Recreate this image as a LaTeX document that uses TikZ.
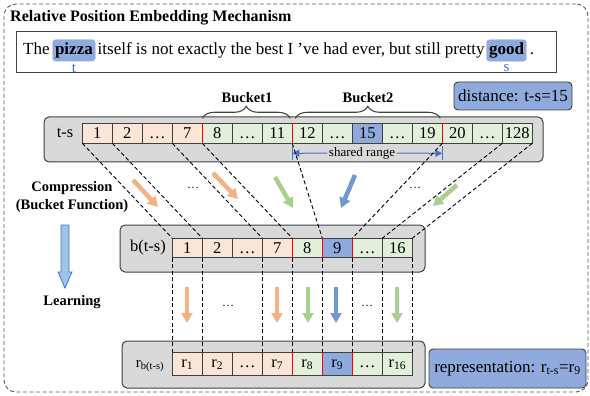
\documentclass[tikz,border=0pt]{standalone}
\usepackage{fontspec}
\setmainfont{Liberation Serif}
\usetikzlibrary{chains,positioning,decorations.pathreplacing,arrows.meta}
\definecolor{myorange}{RGB}{251,229,214}
\definecolor{mygreen}{RGB}{226,240,217}
\definecolor{myblue}{RGB}{143,170,220}
\definecolor{mygray}{RGB}{217,217,217}
\definecolor{myedge}{RGB}{64,64,64}
\definecolor{myframe}{RGB}{62,74,54}
\definecolor{arrorange}{RGB}{244,177,131}
\definecolor{arrgreen}{RGB}{169,209,142}
\definecolor{arrblue}{RGB}{112,153,208}
\definecolor{mytoken}{RGB}{68,114,196}
\definecolor{mybigarrow}{RGB}{157,195,230}

\begin{document}
\begin{tikzpicture}[x=1pt,y=-1pt,
	every node/.style={font=\fontsize{16.5}{19}\selectfont},
	cellnode/.style={draw=myedge,line width=0.8pt,minimum width=30pt,inner sep=0pt,outer sep=0pt,text height=11pt,text depth=0pt},
	panelnode/.style={draw=myedge,fill=mygray,line width=1pt,rounded corners=5pt,inner sep=0pt},
	infonode/.style={draw=myedge,fill=myblue,line width=0.9pt,rounded corners=4pt,inner sep=0pt,font=\fontsize{17}{19}\selectfont},
	rowlabel/.style={inner sep=0pt},
	boldlabel/.style={inner sep=0pt,align=center,font=\bfseries\fontsize{14.5}{18}\selectfont},
	plainword/.style={inner sep=0pt,font=\fontsize{17}{19}\selectfont},
	hlword/.style={fill=myblue,draw=myblue!80!white,rounded corners=3pt,inner xsep=2.5pt,inner ysep=3pt,font=\bfseries\fontsize{17}{19}\selectfont},
	tokenlabel/.style={text=mytoken,inner sep=0pt,font=\fontsize{15}{17}\selectfont},
	mapline/.style={dash pattern=on 4pt off 2.5pt,line width=0.9pt},
	bucketsep/.style={red,line width=1.4pt},
	bucketbrace/.style={decorate,decoration={brace,amplitude=12pt},draw=myframe,line width=1.1pt},
	rangeline/.style={mytoken,line width=1pt},
	rangearrow/.style={mytoken,line width=1pt,-{Triangle[width=7pt,length=7pt]}},
	fatarrow/.style={line width=4.5pt,-{Triangle[width=11pt,length=10pt]}},
	dotsnode/.style={inner sep=0pt,font=\fontsize{12}{14}\selectfont},
	]
	\useasboundingbox (0,0) rectangle (590,396);
	
	% the frame
	\node[draw=black!65,dash pattern=on 4pt off 2.5pt,line width=0.9pt,rounded corners=12pt,minimum width=584pt,minimum height=388pt,inner sep=0pt] (frame) at (296,198) {};
	\node[anchor=west,inner sep=0pt,font=\bfseries\fontsize{16}{18}\selectfont] (title) at (10,18) {Relative Position Embedding Mechanism};
	
	% the sentence
	\node[draw=myframe,line width=1pt,minimum width=540pt,minimum height=41pt,inner sep=0pt] (sentbox) at (286,52.5) {};
	\node[plainword,anchor=base west] (w1) at (23,54.5) {The};
	\node[hlword,base right=2.5pt of w1] (w2) {pizza};
	\node[plainword,base right=2pt of w2] (w3) {itself is not exactly the best I ’ve had ever, but still pretty};
	\node[hlword,base right=1.5pt of w3] (w4) {good};
	\node[plainword,base right=3pt of w4] (w5) {.};
	\node[tokenlabel,below=3pt of w2] (tpos) {t};
	\node[tokenlabel,below=3pt of w4] (spos) {s};
	
	\node[infonode,minimum width=118pt,minimum height=28pt] (dist) at (513,96) {distance: t-s=15};
	
	% the panels
	\node[panelnode,minimum width=499pt,minimum height=45pt] (tspanel) at (293.5,139.5) {};
	\node[panelnode,minimum width=305pt,minimum height=47pt] (bkpanel) at (272.5,248.5) {};
	\node[panelnode,minimum width=303pt,minimum height=47pt] (rppanel) at (273.5,364.5) {};
	
	\node[rowlabel] (tslabel) at (65,133) {t-s};
	\node[rowlabel] (bklabel) at (148,248) {b(t-s)};
	\node[rowlabel,font=\fontsize{15}{17}\selectfont] (rplabel) at (150,366) {r\textsubscript{b(t-s)}};
	
	% distances t-s
	\begin{scope}[shift={(97.3,133.3)},start chain=going right,node distance=0pt]
	\foreach \lab/\col [count=\i] in {1/myorange,2/myorange,…/myorange,7/myorange,8/mygreen,…/mygreen,11/mygreen,12/mygreen,…/mygreen,15/myblue,…/mygreen,19/mygreen,20/mygreen,…/mygreen,128/mygreen}
	\node[cellnode,minimum height=20pt,fill=\col,on chain] (ts\i) {\lab};
	\end{scope}
	
	% buckets b(t-s)
	\begin{scope}[shift={(187.3,248)},start chain=going right,node distance=0pt]
	\foreach \lab/\col [count=\i] in {1/myorange,2/myorange,…/myorange,7/myorange,8/mygreen,9/myblue,…/mygreen,16/mygreen}
	\node[cellnode,minimum height=19.5pt,fill=\col,on chain] (bk\i) {\lab};
	\end{scope}
	
	% representations
	\begin{scope}[shift={(187.3,363.5)},start chain=going right,node distance=0pt]
	\foreach \lab/\col [count=\i] in {{r\textsubscript{1}}/myorange,{r\textsubscript{2}}/myorange,…/myorange,{r\textsubscript{7}}/myorange,{r\textsubscript{8}}/mygreen,{r\textsubscript{9}}/myblue,…/mygreen,{r\textsubscript{16}}/mygreen}
	\node[cellnode,minimum height=23pt,text depth=3.4pt,fill=\col,on chain] (rp\i) {\lab};
	\end{scope}
	
	\node[infonode,minimum width=157pt,minimum height=39pt] (repr) at (507.5,368.5) {representation: r\textsubscript{t-s}=r\textsubscript{9}};
	
	% bucket borders
	\foreach \c in {ts5,ts8,ts13,bk5,bk6,bk7,rp5,rp6,rp7}
	\draw[bucketsep] (\c.north west) -- (\c.south west);
	
	% buckets
	\draw[bucketbrace] ([yshift=5pt]ts5.north west) -- ([xshift=-2pt,yshift=5pt]ts7.north east);
	\draw[bucketbrace] ([xshift=3pt,yshift=5pt]ts8.north west) -- ([xshift=-2pt,yshift=5pt]ts12.north east);
	\node[boldlabel] (bucket1) at (247,98) {Bucket1};
	\node[boldlabel] (bucket2) at (368,98) {Bucket2};
	
	% shared range
	\node[inner sep=1.5pt,font=\fontsize{13}{15}\selectfont] (shared) at (362,153) {shared range};
	\coordinate (srl) at ([yshift=-10pt]ts8.south west);
	\coordinate (srr) at ([yshift=-10pt]ts13.south west);
	\draw[rangearrow] (shared) -- (srl);
	\draw[rangearrow] (shared) -- (srr);
	\draw[rangeline] ([yshift=-3pt]ts8.south west) -- ([yshift=-17pt]ts8.south west);
	\draw[rangeline] ([yshift=-3pt]ts13.south west) -- ([yshift=-17pt]ts13.south west);
	
	% compression edges
	\foreach \a/\b in {ts1.south west/bk1.north west,ts2.south west/bk2.north west,ts4.south west/bk4.north west,ts5.south west/bk5.north west,ts8.south west/bk6.north west,ts13.south west/bk7.north west,ts15.south west/bk8.north west,ts15.south east/bk8.north east}
	\draw[mapline] (\a) -- (\b);
	
	% learning edges
	\foreach \a/\b in {bk1.south west/rp1.north west,bk2.south west/rp2.north west,bk4.south west/rp4.north west,bk5.south west/rp5.north west,bk6.south west/rp6.north west,bk7.south west/rp7.north west,bk8.south west/rp8.north west,bk8.south east/rp8.north east}
	\draw[mapline] (\a) -- (\b);
	
	% compression arrows
	\draw[fatarrow,arrorange] (133,180) -- (158,207);
	\draw[fatarrow,arrorange] (213,173) -- (238,199);
	\draw[fatarrow,arrgreen] (275,177) -- (293,208);
	\draw[fatarrow,arrblue] (355,175) -- (341,208);
	\draw[fatarrow,arrgreen] (457,185) -- (433,206);
	\node[dotsnode] (dots1) at (193,188) {…};
	\node[dotsnode] (dots2) at (415,188) {…};
	
	% learning arrows
	\draw[fatarrow,arrorange] (187,287) -- (187,323);
	\draw[fatarrow,arrorange] (277,287) -- (277,323);
	\draw[fatarrow,arrgreen] (308,287) -- (308,323);
	\draw[fatarrow,arrblue] (336,287) -- (336,323);
	\draw[fatarrow,arrgreen] (397,287) -- (397,323);
	\node[dotsnode] (dots3) at (228,306) {…};
	\node[dotsnode] (dots4) at (367,306) {…};
	
	% left labels
	\node[boldlabel] (compress) at (72,197) {Compression\\(Bucket Function)};
	\node[boldlabel] (learn) at (72,302) {Learning};
	\draw[fill=mybigarrow,draw=mytoken,line width=0.8pt] (61,225) -- (69,225) -- (69,272) -- (72,272) -- (65,288) -- (58,272) -- (61,272) -- cycle;
	
	\end{tikzpicture}
\end{document}
